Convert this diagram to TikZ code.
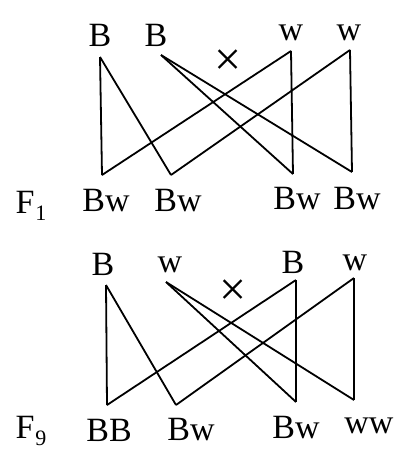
\documentclass[tikz,border=0pt]{standalone}
\usepackage{fontspec}
\setmainfont{Liberation Serif}
\usetikzlibrary{positioning}

\newcommand{\gen}[1]{F\kern1pt\raisebox{-7pt}{\fontsize{22}{24}\selectfont #1}}

\begin{document}
\begin{tikzpicture}[
  x=1pt, y=-1pt,
  lbl/.style={inner sep=0pt, font=\fontsize{34}{36}\selectfont},
  cross/.style={inner sep=0pt, font=\fontsize{48}{50}\selectfont},
  wire/.style={line width=1.8pt, line join=miter}
]
\useasboundingbox (0,0) rectangle (398,453);

% F1
\node[lbl] (t1) at (100,35) {B};
\node[lbl] (t2) at (156,35) {B};
\node[lbl] (t3) at (291,33) {w};
\node[lbl] (t4) at (349,33) {w};
\node[lbl] (b1) at (106,201) {Bw};
\node[lbl] (b2) at (178,201) {Bw};
\node[lbl] (b3) at (297,199) {Bw};
\node[lbl] (b4) at (357,199) {Bw};
\node[lbl] (fa) at (31,206) {\gen{1}};
\node[cross] (xa) at (228,63) {×};

\coordinate (tp1) at (100,57);
\coordinate (tp2) at (161,55);
\coordinate (tp3) at (291,51);
\coordinate (tp4) at (350,50);
\coordinate (bp1) at (102,175);
\coordinate (bp2) at (171,175);
\coordinate (bp3) at (293,174);
\coordinate (bp4) at (352,172);

% F9
\node[lbl] (u1) at (103,264) {B};
\node[lbl] (u2) at (170,265) {w};
\node[lbl] (u3) at (293,262) {B};
\node[lbl] (u4) at (355,263) {w};
\node[lbl] (c1) at (109,430) {BB};
\node[lbl] (c2) at (191,430) {Bw};
\node[lbl] (c3) at (296,428) {Bw};
\node[lbl] (c4) at (369,426) {ww};
\node[lbl] (fb) at (31,431) {\gen{9}};
\node[cross] (xb) at (233,293) {×};

\coordinate (up1) at (106,285);
\coordinate (up2) at (166,282);
\coordinate (up3) at (296,280);
\coordinate (up4) at (354,278);
\coordinate (cp1) at (107,405);
\coordinate (cp2) at (176,405);
\coordinate (cp3) at (296,402);
\coordinate (cp4) at (354,400);

\foreach \a/\b in {tp1/bp1,tp1/bp2,tp2/bp3,tp2/bp4,tp3/bp1,tp3/bp3,tp4/bp2,tp4/bp4,
                   up1/cp1,up1/cp2,up2/cp3,up2/cp4,up3/cp1,up3/cp3,up4/cp2,up4/cp4}
  \draw[wire] (\a) -- (\b);
\end{tikzpicture}
\end{document}
